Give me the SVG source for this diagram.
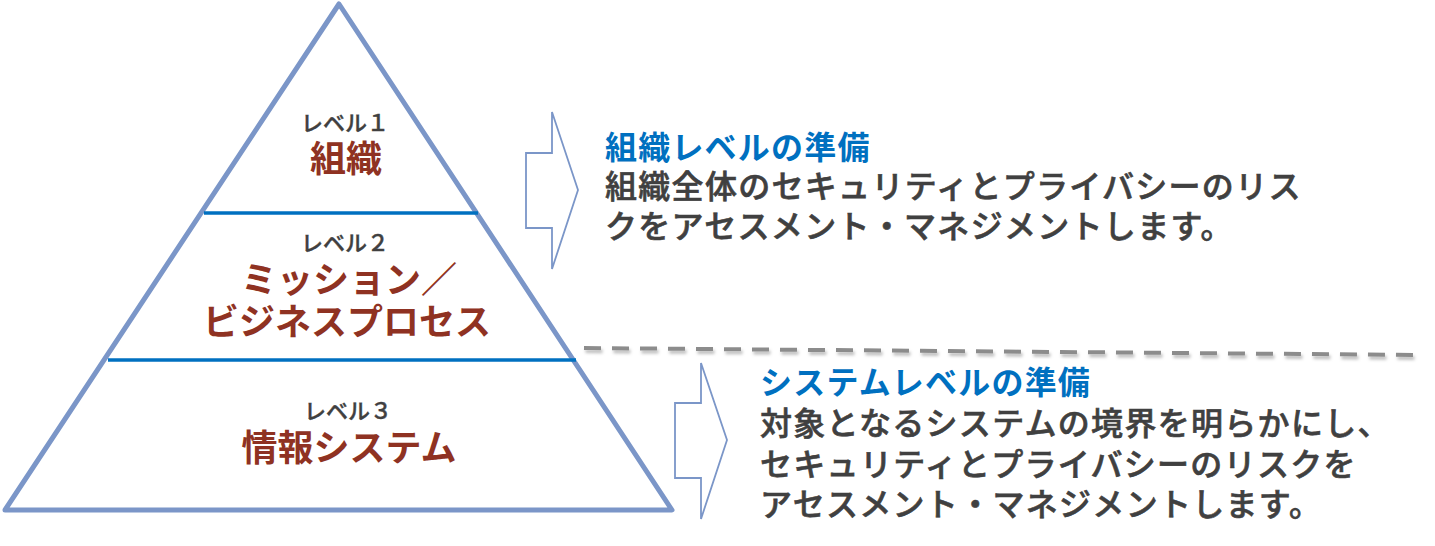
<svg xmlns="http://www.w3.org/2000/svg" width="1435" height="546" viewBox="0 0 1435 546">
  <defs>
    <filter id="shadow" x="-5%" y="-200%" width="110%" height="500%">
      <feDropShadow dx="1.5" dy="3" stdDeviation="1.5" flood-color="#000" flood-opacity="0.25"/>
    </filter>
    <style>
      .tri { fill: #ffffff; stroke: #7B96C8; stroke-width: 5; stroke-linejoin: round; }
      .div { stroke: #0070C0; stroke-width: 3.5; }
      .lvl { font-family: "Noto Sans CJK JP", sans-serif; font-size: 22px; fill: #404040; stroke: #404040; stroke-width: 0.4px; text-anchor: middle; font-weight: 500; }
      .name { font-family: "Noto Sans CJK JP", sans-serif; font-size: 36px; fill: #8F3222; text-anchor: middle; font-weight: bold; }
      .head { font-family: "Noto Sans CJK JP", sans-serif; font-size: 32px; fill: #0070C0; font-weight: bold; letter-spacing: 1.2px; }
      .body { font-family: "Noto Sans CJK JP", sans-serif; font-size: 32px; fill: #404040; stroke: #404040; stroke-width: 0.6px; font-weight: 500; letter-spacing: 1.3px; }
      .arrow { fill: #ffffff; stroke: #7B96C8; stroke-width: 1.8; stroke-linejoin: miter; }
      .dash { stroke: #8C8C8C; stroke-width: 4; stroke-dasharray: 17 11; fill: none; }
    </style>
  </defs>
  <rect width="1435" height="546" fill="#ffffff"/>

  <g id="pyramid">
    <polygon class="tri" points="339,4 672,510 5,510"/>
    <line class="div" x1="204" y1="213" x2="478" y2="213"/>
    <line class="div" x1="108" y1="360" x2="576" y2="360"/>
  </g>

  <g id="level1">
    <text class="lvl" x="345" y="131">レベル１</text>
    <text class="name" x="346" y="172">組織</text>
  </g>

  <g id="level2">
    <text class="lvl" x="345" y="251">レベル２</text>
    <text class="name" x="349" y="293">ミッション／</text>
    <text class="name" x="347" y="335">ビジネスプロセス</text>
  </g>

  <g id="level3">
    <text class="lvl" x="348" y="419">レベル３</text>
    <text class="name" x="349" y="461">情報システム</text>
  </g>

  <g id="connectors">
    <path class="arrow" d="M552,112 L578,190 L552,269 L552,228 L526,228 L526,153 L552,153 Z"/>
    <path class="arrow" d="M701,363 L727,440 L701,519 L701,478 L675,478 L675,403 L701,403 Z"/>
    <line class="dash" x1="584" y1="348" x2="1420" y2="355" filter="url(#shadow)"/>
  </g>

  <g id="org-desc">
    <text class="head" x="605" y="159">組織レベルの準備</text>
    <text class="body" x="605" y="198">組織全体のセキュリティとプライバシーのリス</text>
    <text class="body" x="605" y="238">クをアセスメント・マネジメントします。</text>
  </g>

  <g id="sys-desc">
    <text class="head" x="760" y="394">システムレベルの準備</text>
    <text class="body" x="760" y="435">対象となるシステムの境界を明らかにし、</text>
    <text class="body" x="760" y="476">セキュリティとプライバシーのリスクを</text>
    <text class="body" x="760" y="516">アセスメント・マネジメントします。</text>
  </g>
</svg>
